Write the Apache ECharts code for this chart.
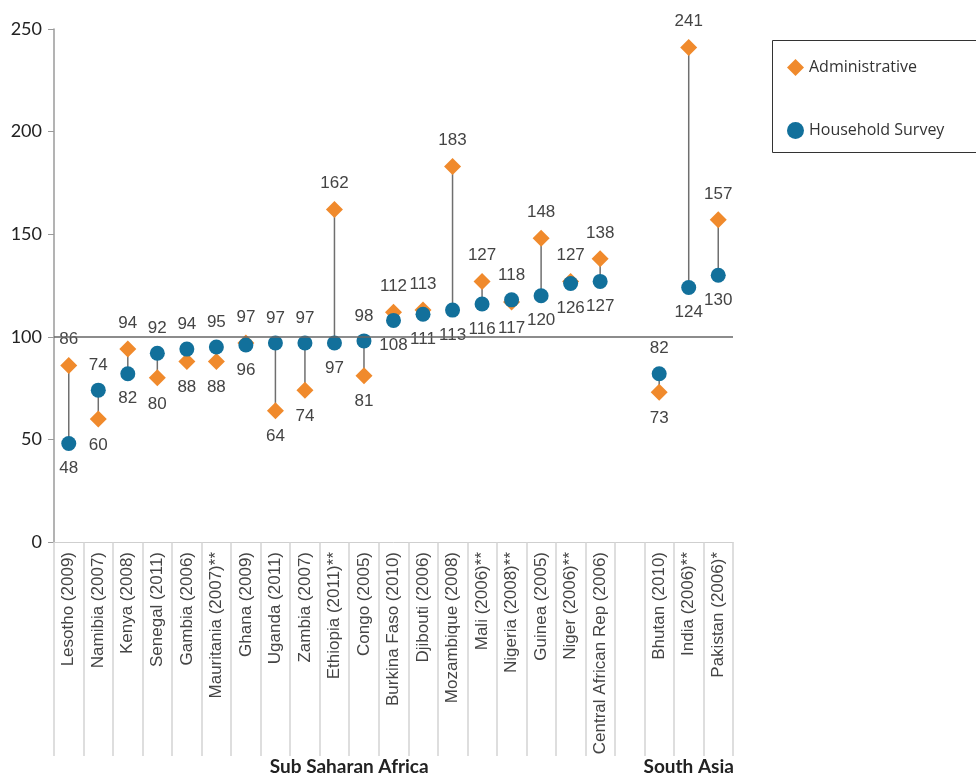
<!DOCTYPE html>
<html>
<head>
<meta charset="utf-8">
<script src="https://cdn.jsdelivr.net/npm/echarts@6/dist/echarts.min.js"></script>
<style>
  html, body { margin: 0; padding: 0; background: #fff; }
  #chart { width: 976px; height: 776px; }
</style>
</head>
<body>
<div id="chart"></div>
<script>
// categories (the blank one separates the two regions)
const countries = [
  'Lesotho (2009)', 'Namibia (2007)', 'Kenya (2008)', 'Senegal (2011)', 'Gambia (2006)',
  'Mauritania (2007)**', 'Ghana (2009)', 'Uganda (2011)', 'Zambia (2007)', 'Ethiopia (2011)**',
  'Congo (2005)', 'Burkina Faso (2010)', 'Djibouti (2006)', 'Mozambique (2008)', 'Mali (2006)**',
  'Nigeria (2008)**', 'Guinea (2005)', 'Niger (2006)**', 'Central African Rep (2006)', '',
  'Bhutan (2010)', 'India (2006)**', 'Pakistan (2006)*'
];
const administrative = [86, 60, 94, 80, 88, 88, 97, 64, 74, 162, 81, 112, 113, 183, 127, 117, 148, 127, 138, null, 73, 241, 157];
const household = [48, 74, 82, 92, 94, 95, 96, 97, 97, 97, 98, 108, 111, 113, 116, 118, 120, 126, 127, null, 82, 124, 130];
// regions: name, first and last category index
const regions = [
  { name: 'Sub Saharan Africa', from: 0, to: 19 },
  { name: 'South Asia', from: 20, to: 22 }
];
const yTicks = [0, 50, 100, 150, 200, 250];

const ORANGE = '#F08A2C';
const BLUE = '#12709B';

const chart = echarts.init(document.getElementById('chart'));

// label above the higher point of the pair, below the lower one
const pointData = (own, other) => own.map((v, i) => {
  if (v == null) return null;
  return { value: v, label: { position: v >= other[i] ? 'top' : 'bottom' } };
});

const labelStyle = {
  show: true,
  distance: 9,
  fontFamily: 'Liberation Sans, Arial, sans-serif',
  fontSize: 17,
  color: '#444',
  formatter: (p) => Array.isArray(p.value) ? p.value[1] : p.value
};

const option = {
  animation: false,
  grid: { left: 54, right: 243, top: 29, bottom: 234, containLabel: false },
  legend: {
    orient: 'vertical',
    left: 782,
    top: 54,
    itemWidth: 17,
    itemHeight: 17,
    itemGap: 46,
    textStyle: { fontFamily: 'Open Sans', fontSize: 16, color: '#333' },
    data: [
      { name: 'Administrative', icon: 'diamond' },
      { name: 'Household Survey', icon: 'circle' }
    ]
  },
  xAxis: {
    type: 'category',
    data: countries,
    boundaryGap: true,
    axisLine: { show: true, lineStyle: { color: '#cfcfcf', width: 1 } },
    axisTick: { show: true, interval: 0, length: 214, lineStyle: { color: '#d3d3d3', width: 1.5 } },
    axisLabel: {
      interval: 0,
      rotate: 90,
      margin: 10,
      fontFamily: 'Liberation Sans, Arial, sans-serif',
      fontSize: 17,
      color: '#444'
    }
  },
  yAxis: {
    type: 'value',
    min: yTicks[0],
    max: yTicks[yTicks.length - 1],
    interval: 50,
    axisLine: { show: true, lineStyle: { color: '#9a9a9a', width: 1.5 } },
    axisTick: { show: true, length: 6, lineStyle: { color: '#9a9a9a' } },
    splitLine: { show: false },
    axisLabel: { margin: 12, fontFamily: 'Lato', fontSize: 18, color: '#222' }
  },
  series: [
    {
      // stems between the two estimates
      type: 'custom',
      silent: true,
      z: 1,
      data: countries.map((c, i) => [i, administrative[i], household[i]]),
      renderItem: (params, api) => {
        const a = api.value(1), h = api.value(2);
        if (isNaN(a) || isNaN(h)) return null;
        const p1 = api.coord([api.value(0), a]);
        const p2 = api.coord([api.value(0), h]);
        return {
          type: 'line',
          shape: { x1: p1[0], y1: p1[1], x2: p2[0], y2: p2[1] },
          style: { stroke: '#6f6f6f', lineWidth: 1.5 }
        };
      },
      markLine: {
        silent: true,
        symbol: 'none',
        label: { show: false },
        lineStyle: { color: '#666', width: 1.5, type: 'solid' },
        data: [{ yAxis: 100 }]
      }
    },
    {
      name: 'Administrative',
      type: 'scatter',
      symbol: 'diamond',
      symbolSize: 17,
      z: 3,
      itemStyle: { color: ORANGE, opacity: 1 },
      label: labelStyle,
      data: pointData(administrative, household)
    },
    {
      name: 'Household Survey',
      type: 'scatter',
      symbol: 'circle',
      symbolSize: 15,
      z: 4,
      itemStyle: { color: BLUE, opacity: 1 },
      label: labelStyle,
      data: pointData(household, administrative)
    }
  ]
};

chart.setOption(option);

// legend frame and region captions placed from the category scale
const graphics = [{
  type: 'rect',
  shape: { x: 772.5, y: 40.5, width: 230, height: 112 },
  style: { fill: 'none', stroke: '#333', lineWidth: 1 }
}];
const band = chart.convertToPixel({ xAxisIndex: 0 }, 1) - chart.convertToPixel({ xAxisIndex: 0 }, 0);
regions.forEach((r) => {
  const x0 = chart.convertToPixel({ xAxisIndex: 0 }, r.from) - band / 2;
  const x1 = chart.convertToPixel({ xAxisIndex: 0 }, r.to) + band / 2;
  graphics.push({
    type: 'text',
    x: (x0 + x1) / 2,
    y: 767,
    style: {
      text: r.name,
      align: 'center',
      verticalAlign: 'middle',
      font: 'bold 19px Lato',
      fill: '#222'
    }
  });
});
chart.setOption({ graphic: graphics });
</script>
</body>
</html>
